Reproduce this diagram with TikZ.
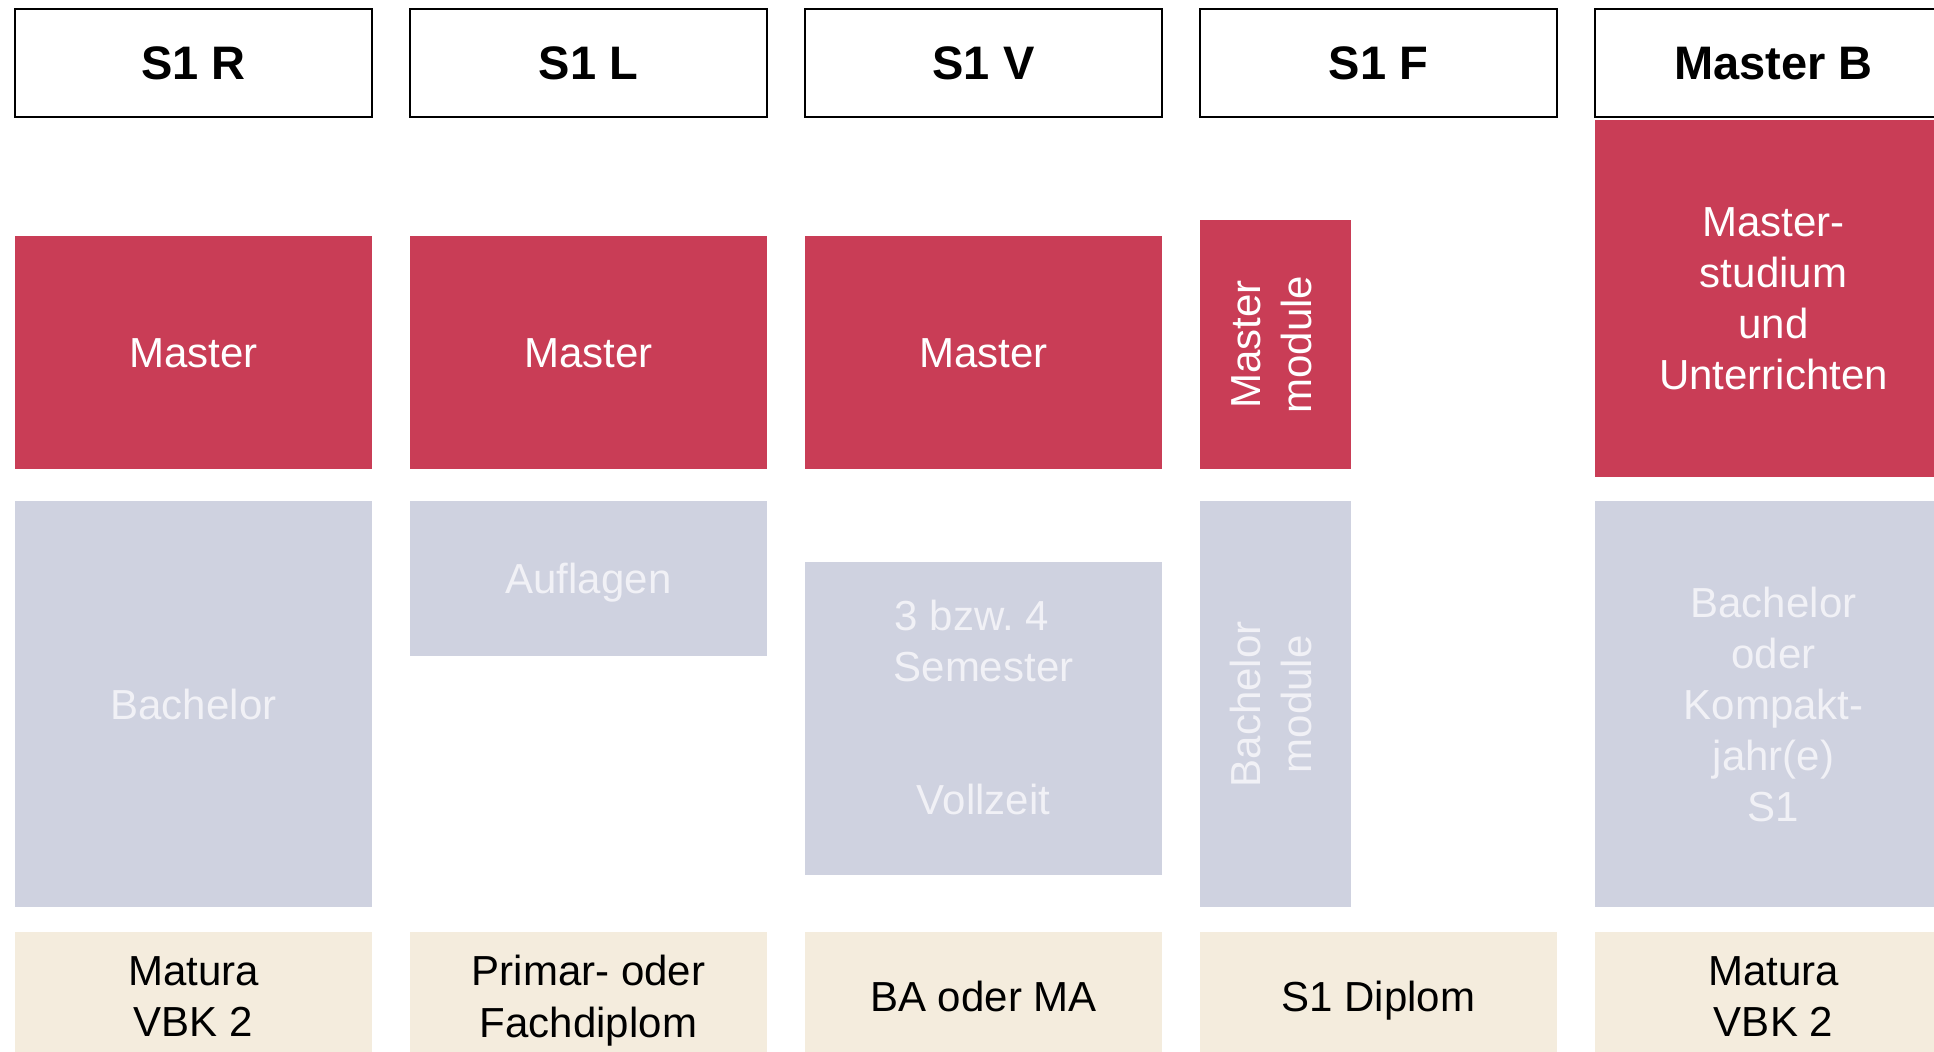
\documentclass[tikz,border=0pt]{standalone}
\usepackage{fontspec}
\setmainfont{Liberation Sans}
\usetikzlibrary{positioning}
\definecolor{stufenrot}{HTML}{C93D56}
\definecolor{stufengrau}{HTML}{CFD2E0}
\definecolor{stufenbeige}{HTML}{F4ECDD}
\tikzset{
	kopf/.style={
		rectangle,
		draw=black, line width=1pt,
		fill=white,
		minimum width=178.5pt,
		minimum height=54pt,
		inner sep=0pt, outer sep=0pt,
		text depth=0pt,
		font=\fontsize{23.5}{28}\selectfont\bfseries},
	block/.style={
		rectangle,
		minimum width=178.5pt,
		inner sep=0pt, outer sep=0pt,
		align=center,
		text depth=0pt,
		font=\fontsize{21}{25.6}\selectfont},
	master/.style={
		block,
		fill=stufenrot,
		text=white,
		minimum height=116.5pt},
	bachelor/.style={
		block,
		fill=stufengrau,
		% text is only a little lighter than the fill
		text=white!70!stufengrau},
	schmal/.style={minimum width=75.5pt},
	abschluss/.style={
		block,
		fill=stufenbeige,
		text=black,
		minimum height=64pt},
}

\begin{document}
\begin{tikzpicture}[node distance=19pt]
	\useasboundingbox (0,0) rectangle (967pt,-525.5pt);
	\clip (0,0) rectangle (967pt,-525.5pt);

	\node[kopf, anchor=north west] (kopfR) at (7.5pt,-4.6pt) {S1 R};
	\node[kopf, right=of kopfR] (kopfL) {S1 L};
	\node[kopf, right=of kopfL] (kopfV) {S1 V};
	\node[kopf, right=of kopfV] (kopfF) {S1 F};
	\node[kopf, right=of kopfF] (kopfB) {Master B};

	\node[master, below=59.5pt of kopfR] (masterR) {Master};
	\node[master, below=59.5pt of kopfL] (masterL) {Master};
	\node[master, below=59.5pt of kopfV] (masterV) {Master};
	\node[master, schmal, minimum height=124.5pt,
		below=51.5pt of kopfF.south west, anchor=north west] (masterF)
		{\rotatebox{90}{\begin{tabular}{@{}c@{}}Master\\ module\end{tabular}}};
	\node[master, minimum height=178.5pt, below=1.5pt of kopfB] (masterB)
		{Master-\\studium\\und\\Unterrichten};

	\node[bachelor, minimum height=203pt, below=16pt of masterR] (bachelorR) {Bachelor};
	\node[bachelor, minimum height=77.5pt, below=16pt of masterL] (bachelorL) {Auflagen};
	\node[bachelor, minimum height=156.5pt, below=46.5pt of masterV] (bachelorV) {};
	\node[bachelor, fill=none, minimum height=0pt] (semesterV) at ([yshift=5.8pt]bachelorV.center)
		{3 bzw.\ 4\hphantom{0}\\Semester\\[40.5pt]Vollzeit};
	\node[bachelor, schmal, minimum height=203pt, below=16pt of masterF] (bachelorF)
		{\rotatebox{90}{\begin{tabular}{@{}c@{}}Bachelor\\ module\end{tabular}}};
	\node[bachelor, minimum height=203pt, below=12pt of masterB] (bachelorB)
		{Bachelor\\oder\\Kompakt-\\jahr(e)\\S1};

	\node[abschluss, below=12.5pt of bachelorR] (abschlussR) {Matura\\VBK 2};
	\node[abschluss, right=of abschlussR] (abschlussL) {Primar- oder\\Fachdiplom};
	\node[abschluss, right=of abschlussL] (abschlussV) {BA oder MA};
	\node[abschluss, right=of abschlussV] (abschlussF) {S1 Diplom};
	\node[abschluss, right=of abschlussF] (abschlussB) {Matura\\VBK 2};
\end{tikzpicture}
\end{document}
